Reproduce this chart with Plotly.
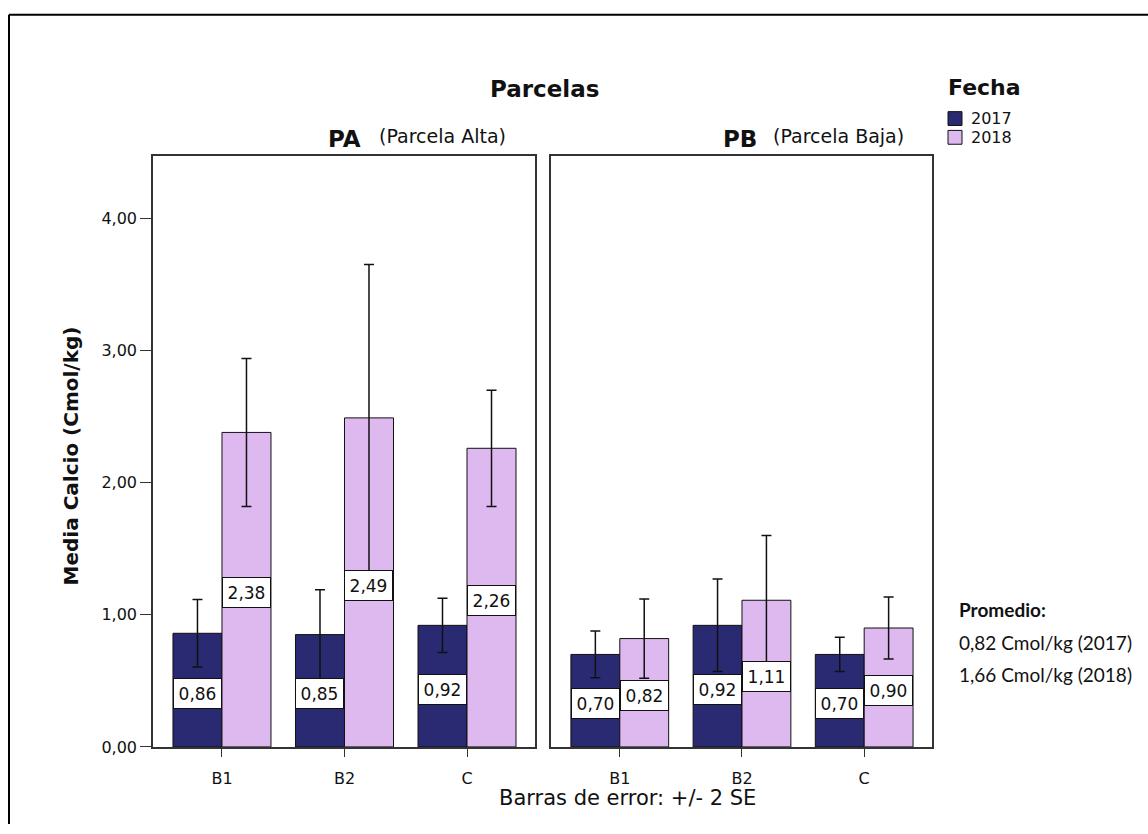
import plotly.graph_objects as go

# Mean calcium per plot section, by sampling year
sites = ["B1", "B2", "C"]
pa_2017 = [0.86, 0.85, 0.92]
pa_2018 = [2.38, 2.49, 2.26]
pb_2017 = [0.70, 0.92, 0.70]
pb_2018 = [0.82, 1.11, 0.90]

# +/- 2 SE half-widths
pa_2017_err = [0.256, 0.34, 0.205]
pa_2018_err = [0.56, 1.16, 0.44]
pb_2017_err = [0.177, 0.35, 0.13]
pb_2018_err = [0.30, 0.49, 0.235]

y_ticks = [0, 1, 2, 3, 4]
y_tick_labels = ["0,00", "1,00", "2,00", "3,00", "4,00"]

W, H = 1148, 834
NAVY = "#2A2A72"
LILAC = "#DEB9F0"
INK = "#111"
FONT = "DejaVu Sans"


def px(x):
    return x / W


def py(y):
    return 1 - y / H


def fmt(v):
    return f"{v:.2f}".replace(".", ",")


fig = go.Figure()

panels = [
    ("x", "y", pa_2017, pa_2018, pa_2017_err, pa_2018_err),
    ("x2", "y2", pb_2017, pb_2018, pb_2017_err, pb_2018_err),
]

annotations = []
for xa, ya, v17, v18, e17, e18 in panels:
    for vals, errs, color, name, off in [
        (v17, e17, NAVY, "2017", -0.2),
        (v18, e18, LILAC, "2018", 0.2),
    ]:
        fig.add_trace(go.Bar(
            x=[0, 1, 2], y=vals, name=name, xaxis=xa, yaxis=ya,
            marker=dict(color=color, line=dict(color=INK, width=1)),
            error_y=dict(type="data", array=errs, color=INK,
                         thickness=1.5, width=5),
            showlegend=False,
        ))
        for i, v in enumerate(vals):
            annotations.append(dict(
                x=i + off, y=v / 2, xref=xa, yref=ya, text=fmt(v),
                showarrow=False, bgcolor="white", bordercolor=INK,
                borderwidth=1, borderpad=1, width=45, height=27,
                yshift=-3, font=dict(family=FONT, size=17, color=INK),
            ))

axis_common = dict(
    showline=True, mirror=True, linecolor="#333", linewidth=1.5,
    showgrid=False, zeroline=False,
)
xcommon = dict(axis_common, range=[-0.563, 2.555], tickvals=[0, 1, 2],
               ticktext=sites, ticks="outside", ticklen=8, tickcolor="#333",
               ticklabelstandoff=8,
               tickfont=dict(family=FONT, size=16, color=INK))
ydomain = [py(756), py(158)]
ycommon = dict(axis_common, range=[0, 4.471], domain=ydomain)

fig.update_layout(
    width=W, height=H,
    margin=dict(l=0, r=0, t=0, b=0),
    paper_bgcolor="white", plot_bgcolor="white",
    barmode="group", bargap=0.2, bargroupgap=0,
    xaxis=dict(xcommon, domain=[px(153), px(535)], anchor="y"),
    xaxis2=dict(xcommon, domain=[px(551), px(932)], anchor="y2"),
    yaxis=dict(ycommon, anchor="x", tickvals=y_ticks, ticktext=y_tick_labels,
               ticks="outside", ticklen=11, tickcolor="#333",
               tickfont=dict(family=FONT, size=16, color=INK)),
    yaxis2=dict(ycommon, anchor="x2", showticklabels=False, ticks=""),
    showlegend=False,
)

# Titles, strip labels, legend text, footnote
texts = [
    ("Parcelas", 544, 90, 23, True, "center"),
    ("PA", 344, 141, 23, True, "center"),
    ("(Parcela Alta)", 377, 138, 19, False, "left"),
    ("PB", 740, 141, 23, True, "center"),
    ("(Parcela Baja)", 771, 138, 19, False, "left"),
    ("Barras de error: +/- 2 SE", 628, 808, 21, False, "center"),
    ("Fecha", 946, 89, 22, True, "left"),
    ("2017", 969, 120, 16, False, "left"),
    ("2018", 969, 139, 16, False, "left"),
]
for t, x, y, s, bold, anchor in texts:
    annotations.append(dict(
        text=f"<b>{t}</b>" if bold else t, x=px(x), y=py(y),
        xref="paper", yref="paper", showarrow=False,
        xanchor=anchor, yanchor="middle",
        font=dict(family=FONT, size=s, color=INK),
    ))

annotations.append(dict(
    text="<b>Media Calcio (Cmol/kg)</b>", x=px(71), y=py(462),
    xref="paper", yref="paper", showarrow=False, textangle=-90,
    xanchor="center", yanchor="middle",
    font=dict(family=FONT, size=20, color=INK),
))

# Averages note
note = [("<b>Promedio:</b>", 617), ("0,82 Cmol/kg (2017)", 650),
        ("1,66 Cmol/kg (2018)", 683)]
for t, y in note:
    annotations.append(dict(
        text=t, x=px(957), y=py(y), xref="paper", yref="paper",
        showarrow=False, xanchor="left", yanchor="middle",
        font=dict(family="Lato", size=19, color=INK),
    ))

fig.update_layout(annotations=annotations)

shapes = [
    # legend swatches
    dict(type="rect", xref="paper", yref="paper",
         x0=px(948), x1=px(962), y0=py(127), y1=py(113),
         fillcolor=NAVY, line=dict(color=INK, width=1)),
    dict(type="rect", xref="paper", yref="paper",
         x0=px(948), x1=px(962), y0=py(146), y1=py(132),
         fillcolor=LILAC, line=dict(color=INK, width=1)),
    # frame around the figure
    dict(type="line", xref="paper", yref="paper",
         x0=px(9), x1=px(1148), y0=py(15), y1=py(15),
         line=dict(color="black", width=2)),
    dict(type="line", xref="paper", yref="paper",
         x0=px(9), x1=px(9), y0=py(15), y1=0,
         line=dict(color="black", width=2)),
]
fig.update_layout(shapes=shapes)

fig.write_html("out.html")
